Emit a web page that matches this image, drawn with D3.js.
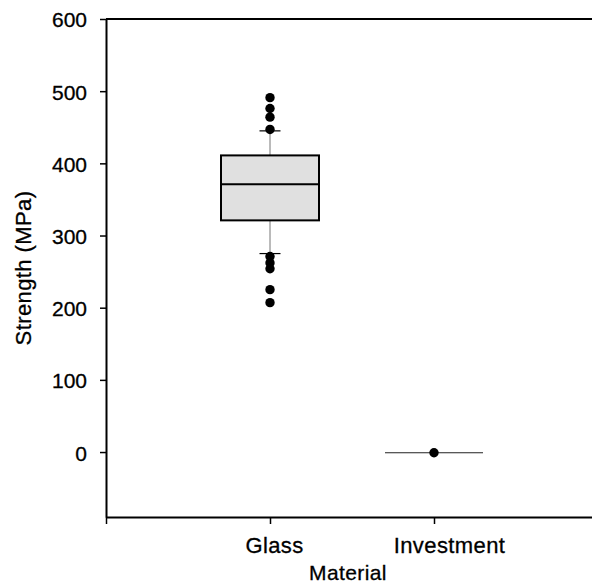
<!DOCTYPE html>
<html>
<head>
<meta charset="utf-8">
<script src="https://cdn.jsdelivr.net/npm/d3@7"></script>
<style>
  body { margin: 0; background: #fff; }
  text { font-family: "Liberation Sans", Arial, sans-serif; fill: #000; stroke: #000; stroke-width: 0.3px; }
</style>
</head>
<body>
<svg id="chart" width="592" height="586"></svg>
<script>
// box plot data
var categories = ["Glass", "Investment"];
var lowerWhisker = [275, -1];
var q1 = [321, -1];
var median = [371, -1];
var q3 = [411, -1];
var upperWhisker = [445, -1];
var outliers = [
  [491, 476, 464, 447, 271, 262, 254, 225, 207],
  [-1]
];
var yTicks = [0, 100, 200, 300, 400, 500, 600];

var svg = d3.select("#chart");

var x = d3.scaleLinear().domain([0, 3]).range([106, 598]);
var y = d3.scaleLinear().domain([-90, 600]).range([517, 19]);

var boxW = 98, capW = 21;
var fontFam = "Liberation Sans, Arial, sans-serif";

// top frame line
svg.append("line")
  .attr("x1", x(0)).attr("x2", x(3))
  .attr("y1", y(600)).attr("y2", y(600))
  .attr("stroke", "#000").attr("stroke-width", 2);

// y axis
var yAxis = svg.append("g")
  .attr("transform", "translate(" + x(0) + ",0)")
  .call(d3.axisLeft(y).tickValues(yTicks).tickSize(6).tickPadding(13).tickSizeOuter(0));
yAxis.select(".domain").attr("stroke-width", 2);
yAxis.selectAll(".tick line").attr("stroke-width", 1.5);
yAxis.selectAll("text").attr("font-size", 21).attr("font-family", fontFam).attr("dy", "0.38em");

// x axis
var xAxis = svg.append("g")
  .attr("transform", "translate(0," + y(-90) + ")")
  .call(d3.axisBottom(x).tickValues([0, 1, 2])
    .tickFormat(function(d) { return d === 0 ? "" : categories[d - 1]; })
    .tickSize(7).tickPadding(13).tickSizeOuter(0));
xAxis.select(".domain").attr("stroke-width", 2);
xAxis.selectAll(".tick line").attr("stroke-width", 1.5);
xAxis.selectAll("text").attr("font-size", 22).attr("font-family", fontFam)
  .attr("letter-spacing", 0.4)
  .attr("dx", function(d) { return d === 1 ? 4 : 15; });

// axis titles
svg.append("text")
  .attr("transform", "translate(31," + (y(-90) + y(600)) / 2 + ") rotate(-90)")
  .attr("text-anchor", "middle")
  .attr("font-size", 22)
  .attr("letter-spacing", 0.4)
  .text("Strength (MPa)");

svg.append("text")
  .attr("x", (x(0) + x(3)) / 2 - 4)
  .attr("y", 580)
  .attr("text-anchor", "middle")
  .attr("font-size", 21)
  .attr("letter-spacing", 0.4)
  .text("Material");

// boxes
categories.forEach(function(c, i) {
  var cx = x(i + 1);
  var g = svg.append("g");

  // whiskers
  g.append("line")
    .attr("x1", cx).attr("x2", cx)
    .attr("y1", y(q3[i])).attr("y2", y(upperWhisker[i]))
    .attr("stroke", "#777").attr("stroke-width", 1);
  g.append("line")
    .attr("x1", cx).attr("x2", cx)
    .attr("y1", y(q1[i])).attr("y2", y(lowerWhisker[i]))
    .attr("stroke", "#777").attr("stroke-width", 1);

  if (q3[i] > q1[i]) {
    [upperWhisker[i], lowerWhisker[i]].forEach(function(v) {
      g.append("line")
        .attr("x1", cx - capW / 2).attr("x2", cx + capW / 2)
        .attr("y1", y(v)).attr("y2", y(v))
        .attr("stroke", "#000").attr("stroke-width", 1.2);
    });
    g.append("rect")
      .attr("x", cx - boxW / 2).attr("width", boxW)
      .attr("y", y(q3[i])).attr("height", y(q1[i]) - y(q3[i]))
      .attr("fill", "#e0e0e0").attr("stroke", "#000").attr("stroke-width", 2);
    g.append("line")
      .attr("x1", cx - boxW / 2).attr("x2", cx + boxW / 2)
      .attr("y1", y(median[i])).attr("y2", y(median[i]))
      .attr("stroke", "#000").attr("stroke-width", 2);
  } else {
    // collapsed box
    g.append("line")
      .attr("x1", cx - boxW / 2).attr("x2", cx + boxW / 2)
      .attr("y1", y(median[i])).attr("y2", y(median[i]))
      .attr("stroke", "#222").attr("stroke-width", 1);
  }

  g.selectAll("circle").data(outliers[i]).enter().append("circle")
    .attr("cx", cx).attr("cy", function(d) { return y(d); })
    .attr("r", 4.7).attr("fill", "#000");
});
</script>
</body>
</html>
